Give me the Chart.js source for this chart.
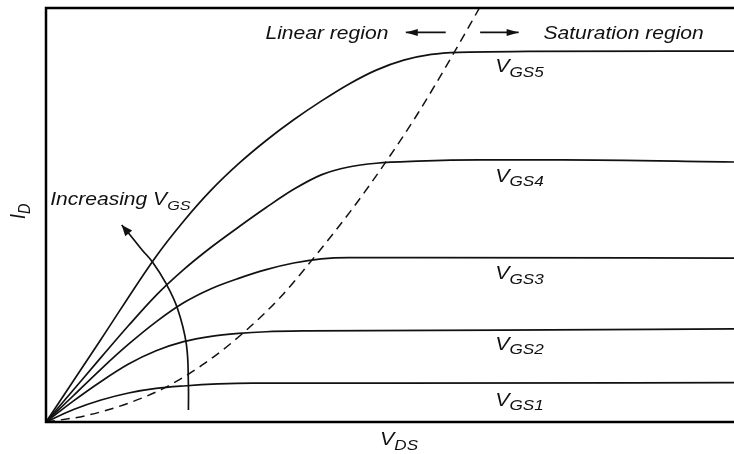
<!DOCTYPE html>
<html>
<head>
<meta charset="utf-8">
<script src="https://cdn.jsdelivr.net/npm/chart.js@4/dist/chart.umd.min.js"></script>
<style>
  html, body { margin: 0; padding: 0; background: #fff; }
  canvas { display: block; }
</style>
</head>
<body>
<canvas id="chart" width="734" height="454"></canvas>
<script>
// [V_DS, I_D] pairs, arbitrary units (0-10 on both axes)
const vgs1 = [[0,0],[0.4,0.30],[0.8,0.53],[1.2,0.70],[1.6,0.81],[2.0,0.87],[2.5,0.92],[3.0,0.94],[5.0,0.94],[10,0.95]];
const vgs2 = [[0,0],[0.4,0.51],[0.8,0.98],[1.2,1.40],[1.6,1.72],[2.0,1.94],[2.4,2.07],[2.8,2.14],[3.2,2.18],[3.8,2.20],[6.6,2.22],[10,2.25]];
const vgs3 = [[0,0],[0.4,0.64],[0.8,1.28],[1.2,1.88],[1.6,2.42],[2.0,2.88],[2.4,3.22],[2.8,3.47],[3.2,3.68],[3.6,3.84],[4.0,3.94],[4.4,3.97],[5.2,3.97],[10,3.96]];
const vgs4 = [[0,0],[0.4,0.78],[0.8,1.56],[1.2,2.33],[1.6,3.06],[2.0,3.68],[2.4,4.22],[2.8,4.71],[3.2,5.18],[3.6,5.62],[4.0,5.97],[4.4,6.16],[4.8,6.25],[5.4,6.30],[6.3,6.33],[7.5,6.33],[10,6.28]];
const vgs5 = [[0,0],[0.8,2.00],[1.6,4.00],[2.0,4.85],[2.4,5.60],[2.8,6.24],[3.2,6.80],[3.6,7.30],[4.0,7.75],[4.4,8.16],[4.8,8.50],[5.2,8.74],[5.6,8.88],[6.0,8.93],[7.0,8.95],[10,8.96]];
// boundary between linear and saturation region (dashed)
const boundary = [[0,0],[0.57,0.15],[1.19,0.45],[1.73,0.83],[2.31,1.42],[2.90,2.20],[3.41,3.02],[3.85,3.88],[4.43,5.10],[4.91,6.21],[5.40,7.44],[5.92,8.89],[6.30,10]];
// "increasing V_GS" arc, last point is the arrow tip
const gateArc = [[2.07,0.29],[2.07,0.89],[2.04,1.88],[1.91,2.75],[1.74,3.36],[1.55,3.86],[1.40,4.15],[1.26,4.44],[1.10,4.76]];
const linearArrow = [[5.81,9.41],[5.23,9.41]];
const satArrow = [[6.31,9.41],[6.87,9.41]];

const curveNames = ['GS1', 'GS2', 'GS3', 'GS4', 'GS5'];
const curveNameAt = [[6.53,0.39],[6.53,1.74],[6.53,3.45],[6.53,5.80],[6.53,8.45]];
const regionNames = ['Linear region', 'Saturation region'];
const regionNameAt = [[3.19,9.25],[7.23,9.25]];

const FONT = '"Liberation Sans", Arial, Helvetica, sans-serif';
const STRETCH = 1.19; // the reference text is a bit wide
const INK = '#111';

const toXY = arr => arr.map(p => ({ x: p[0], y: p[1] }));

function line(data, extra) {
  return Object.assign({
    data: toXY(data),
    showLine: true,
    borderColor: INK,
    borderWidth: 1.7,
    pointRadius: 0,
    cubicInterpolationMode: 'monotone'
  }, extra || {});
}

// draws text pieces one after another; piece = [text, size, dy]
function drawParts(ctx, parts) {
  let cx = 0;
  parts.forEach(([t, size, dy]) => {
    ctx.font = `italic ${size}px ${FONT}`;
    ctx.fillText(t, cx, dy);
    cx += ctx.measureText(t).width;
  });
}

function label(ctx, parts, x, y, rotate) {
  ctx.save();
  ctx.translate(x, y);
  ctx.scale(STRETCH, 1);
  if (rotate) ctx.rotate(-Math.PI / 2);
  ctx.fillStyle = INK;
  ctx.textBaseline = 'alphabetic';
  drawParts(ctx, parts);
  ctx.restore();
}

const framePlugin = {
  id: 'frame',
  afterDatasetsDraw(chart) {
    const { ctx, chartArea: a } = chart;
    ctx.save();
    ctx.strokeStyle = '#000';
    ctx.lineWidth = 2.5;
    ctx.beginPath();
    ctx.moveTo(a.right, a.top);
    ctx.lineTo(a.left, a.top);
    ctx.lineTo(a.left, a.bottom);
    ctx.lineTo(a.right, a.bottom);
    ctx.stroke();
    ctx.restore();
  }
};

const arrowPlugin = {
  id: 'arrows',
  afterDatasetsDraw(chart) {
    const ctx = chart.ctx;
    chart.data.datasets.forEach((ds, i) => {
      if (!ds.arrowHead) return;
      const pts = chart.getDatasetMeta(i).data;
      const tip = pts[pts.length - 1], prev = pts[pts.length - 2];
      const ang = Math.atan2(tip.y - prev.y, tip.x - prev.x);
      const [len, half] = ds.arrowHead;
      ctx.save();
      ctx.translate(tip.x, tip.y);
      ctx.rotate(ang);
      ctx.beginPath();
      ctx.moveTo(0, 0);
      ctx.lineTo(-len, -half);
      ctx.lineTo(-len, half);
      ctx.closePath();
      ctx.fillStyle = INK;
      ctx.fill();
      ctx.restore();
    });
  }
};

const textPlugin = {
  id: 'texts',
  afterDraw(chart) {
    const { ctx, chartArea: a } = chart;
    const sx = chart.scales.x, sy = chart.scales.y;
    const px = v => sx.getPixelForValue(v), py = v => sy.getPixelForValue(v);

    regionNames.forEach((t, i) => {
      label(ctx, [[t, 17.7, 0]], px(regionNameAt[i][0]), py(regionNameAt[i][1]));
    });
    curveNames.forEach((t, i) => {
      label(ctx, [['V', 18, 0], [t, 14.4, 4.5]], px(curveNameAt[i][0]), py(curveNameAt[i][1]));
    });
    label(ctx, [['Increasing ', 17.7, 0], ['V', 17.7, 0], ['GS', 13.6, 4.5]], px(0.06), py(5.24));

    // axis titles
    label(ctx, [['V', 18, 0], ['DS', 14.4, 4.5]], (a.left + a.right) / 2 - 10, a.bottom + 23);
    label(ctx, [['I', 18, 0], ['D', 14.4, 4.5]], 25, (a.top + a.bottom) / 2 + 4, true);
  }
};

new Chart(document.getElementById('chart'), {
  type: 'scatter',
  data: {
    datasets: [
      line(vgs1), line(vgs2), line(vgs3), line(vgs4), line(vgs5),
      line(boundary, { borderDash: [9, 6], borderWidth: 1.5 }),
      line(gateArc, { cubicInterpolationMode: 'default', tension: 0.4, arrowHead: [11, 4.5] }),
      line(linearArrow, { arrowHead: [12, 3.5] }),
      line(satArrow, { arrowHead: [12, 3.5] })
    ]
  },
  options: {
    responsive: false,
    animation: false,
    events: [],
    layout: { padding: { left: 46, top: 8, right: 0, bottom: 32 } },
    plugins: { legend: { display: false }, tooltip: { enabled: false } },
    scales: {
      x: { type: 'linear', min: 0, max: 10, display: false },
      y: { type: 'linear', min: 0, max: 10, display: false }
    }
  },
  plugins: [framePlugin, arrowPlugin, textPlugin]
});
</script>
</body>
</html>
